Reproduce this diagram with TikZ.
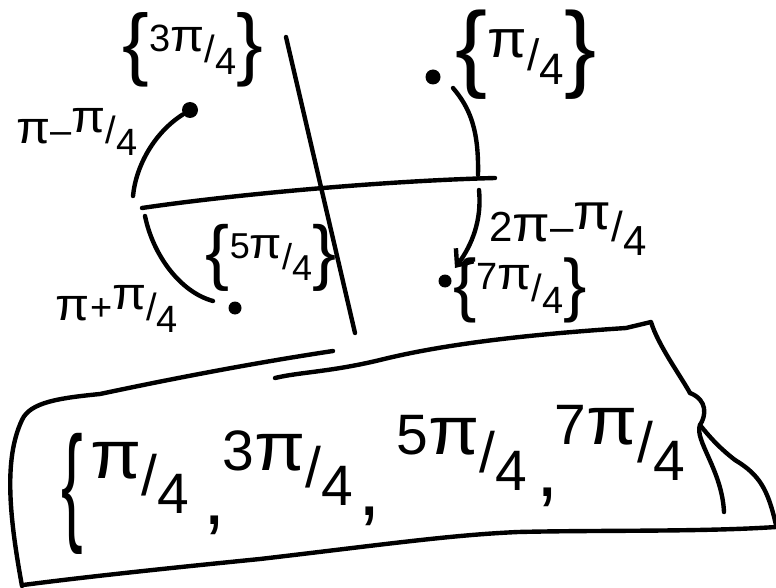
\documentclass[tikz,border=0pt]{standalone}
\usepackage{fontspec}
\setmainfont{Liberation Sans}
\usetikzlibrary{arrows.meta}
\newcommand\bigpi{\scalebox{1.3}[1.2]{π}}
\newcommand\myfr[2]{\raisebox{0.3em}{#1}/\raisebox{-0.32em}{#2}}
\newcommand\lbr[1]{{\fontsize{#1}{#1}\selectfont\raisebox{-0.1em}{\{}}}
\newcommand\rbr[1]{{\fontsize{#1}{#1}\selectfont\raisebox{-0.1em}{\}}}}
\begin{document}
\begin{tikzpicture}[x=1pt,y=-1pt,
  pen/.style={line width=4.4pt,line cap=round,line join=round},
  lab/.style={inner sep=0pt,font=\fontsize{#1}{#1}\selectfont},
  setel/.style={inner sep=0pt,font=\fontsize{57}{57}\selectfont},
  commanode/.style={inner sep=0pt,font=\fontsize{80}{80}\selectfont},
  dotnode/.style={circle,fill=black,inner sep=0pt,minimum size=#1}]
\useasboundingbox (0,0) rectangle (776,588);

% axes
\coordinate (vt) at (286,37);
\coordinate (vb) at (355,333);
\coordinate (hl) at (142,208);
\coordinate (hr) at (495,178);
\draw[pen] (vt) -- (vb);
\draw[pen] (hl) .. controls (230,195) and (380,181) .. (hr);

% dots
\node[dotnode=16pt] (d3) at (190,110) {};
\node[dotnode=15pt] (d1) at (433,77) {};
\node[dotnode=13pt] (d5) at (235,308) {};
\node[dotnode=13pt] (d7) at (445,281) {};

% arcs
\coordinate (a1e) at (133,196);
\coordinate (a2s) at (145,216);
\coordinate (a2e) at (213,301);
\coordinate (a3s) at (453,88);
\coordinate (a3e) at (478,175);
\coordinate (a4s) at (479,190);
\coordinate (a4e) at (455,268);
\draw[pen] (d3) .. controls (155,132) and (136,165) .. (a1e);
\draw[pen] (a2s) .. controls (153,255) and (180,292) .. (a2e);
\draw[pen] (a3s) .. controls (470,108) and (479,130) .. (a3e);
\draw[pen,-{Straight Barb[length=13pt,width=22pt,line width=4.4pt]}] (a4s) .. controls (482,220) and (472,245) .. (a4e);

% labels
\node[lab=38] (l3) at (193,50) {\lbr{80}\myfr{3\bigpi}{4}\rbr{80}};
\node[lab=44] (l1) at (526,55) {\lbr{96}\myfr{\bigpi}{4}\rbr{96}};
\node[lab=36] (l5) at (271,258) {\lbr{72}\myfr{5\bigpi}{4}\rbr{72}};
\node[lab=38] (l7) at (520,290) {\lbr{70}\myfr{7\bigpi}{4}\rbr{70}};
\node[lab=38] (m1) at (77,132) {\bigpi–\myfr{\bigpi}{4}};
\node[lab=38] (p1) at (117,309) {\bigpi+\myfr{\bigpi}{4}};
\node[lab=42] (t1) at (568,229) {2\bigpi–\myfr{\bigpi}{4}};

% box
\draw[pen] (22,586) .. controls (10,520) and (3,460) .. (22,420)
  .. controls (30,402) and (60,398) .. (100,394)
  .. controls (180,377) and (260,362) .. (333,351);
\draw[pen] (275,378) .. controls (300,372) and (330,372) .. (380,360)
  .. controls (440,345) and (520,335) .. (626,328) -- (651,322)
  .. controls (658,345) and (680,375) .. (690,393);
\draw[pen] (690,393) .. controls (708,400) and (706,416) .. (700,425)
  .. controls (694,440) and (722,470) .. (724,512);
\draw[pen] (700,425) .. controls (712,440) and (722,450) .. (735,460)
  .. controls (760,475) and (768,490) .. (776,525);
\draw[pen] (23,585) .. controls (100,575) and (200,565) .. (260,559)
  .. controls (380,545) and (450,535) .. (518,532)
  .. controls (600,530) and (700,532) .. (776,527);

% set
\node[inner sep=0pt,font=\fontsize{130}{130}\selectfont,xscale=0.5] (sb) at (72,494) {\{};
\node[setel] (s1) at (140,478) {\myfr{\bigpi}{4}};
\node[commanode] (c1) at (215,525) {,};
\node[setel] (s2) at (288,468) {\myfr{3\bigpi}{4}};
\node[commanode] (c2) at (370,516) {,};
\node[setel] (s3) at (462,453) {\myfr{5\bigpi}{4}};
\node[commanode] (c3) at (548,497) {,};
\node[setel] (s4) at (620,443) {\myfr{7\bigpi}{4}};
\end{tikzpicture}
\end{document}
